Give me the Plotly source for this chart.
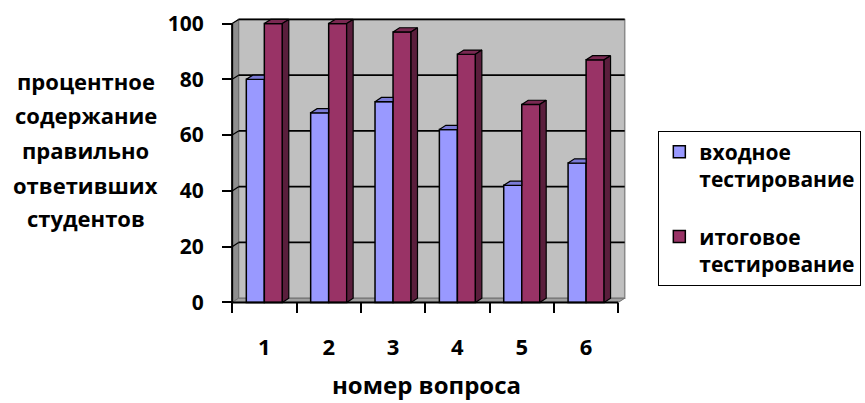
import plotly.graph_objects as go

# Data: share of students who answered each question correctly, %
questions = [1, 2, 3, 4, 5, 6]
entry_test = [80, 68, 72, 62, 42, 50]
final_test = [100, 100, 97, 89, 71, 87]
series_names = ["входное<br>тестирование", "итоговое<br>тестирование"]
y_ticks = [0, 20, 40, 60, 80, 100]
y_title_lines = ["процентное", "содержание", "правильно", "ответивших", "студентов"]
x_title = "номер вопроса"

# Styling
BLUE = "#9999FF"
BLUE_TOP = "#7B7BD6"
PLUM = "#993366"
PLUM_TOP = "#7A2952"
PLUM_SIDE = "#5A1E3C"
WALL = "#C0C0C0"
SIDE_WALL = "#8E8E8E"
FONT = "Open Sans"

BARGAP = 0.44
BAR_W = (1 - BARGAP) / 2     # width of one bar in category units
DX, DY = 0.10, 1.5           # pseudo-3D depth offset (x units, y units)
X0, X1 = 0.5, len(questions) + 0.5
XR = [0.42, X1 + 0.12]
YR = [-2, 102]


def bold(size):
    return dict(family=FONT, size=size, color="black", weight="bold")


fig = go.Figure()

fig.add_trace(go.Bar(x=questions, y=entry_test, name=series_names[0], legendgroup="entry",
                     marker=dict(color=BLUE, line=dict(color="black", width=1.5))))
fig.add_trace(go.Bar(x=questions, y=final_test, name=series_names[1], legendgroup="final",
                     marker=dict(color=PLUM, line=dict(color="black", width=1.5))))

# Depth faces of the columns, built from the same values
blue_top_x, blue_top_y = [], []
plum_top_x, plum_top_y = [], []
plum_side_x, plum_side_y = [], []
for c, vb, vp in zip(questions, entry_test, final_test):
    bx0, bx1 = c - BAR_W, c
    blue_top_x += [bx0, bx1, bx1, bx0 + DX, bx0, None]
    blue_top_y += [vb, vb, vb + DY, vb + DY, vb, None]
    px0, px1 = c, c + BAR_W
    plum_top_x += [px0, px1, px1 + DX, px0 + DX, px0, None]
    plum_top_y += [vp, vp, vp + DY, vp + DY, vp, None]
    plum_side_x += [px1, px1 + DX, px1 + DX, px1, px1, None]
    plum_side_y += [0, DY, vp + DY, vp, 0, None]

for xs, ys, col in [(blue_top_x, blue_top_y, BLUE_TOP),
                    (plum_top_x, plum_top_y, PLUM_TOP),
                    (plum_side_x, plum_side_y, PLUM_SIDE)]:
    fig.add_trace(go.Scatter(x=xs, y=ys, mode="lines", fill="toself", fillcolor=col,
                             line=dict(color="black", width=1.2), showlegend=False,
                             hoverinfo="skip"))

shapes = []
# back wall
shapes.append(dict(type="rect", xref="x", yref="y", x0=X0 + DX, x1=X1 + DX, y0=DY, y1=100 + DY,
                   fillcolor=WALL, line=dict(color="#8A8A8A", width=1.5), layer="below"))
# left side wall
shapes.append(dict(type="path", xref="x", yref="y",
                   path=f"M {X0},0 L {X0},100 L {X0 + DX},{100 + DY} L {X0 + DX},{DY} Z",
                   fillcolor=SIDE_WALL, line=dict(color="#707070", width=1), layer="below"))
# floor
shapes.append(dict(type="path", xref="x", yref="y",
                   path=f"M {X0},0 L {X1},0 L {X1 + DX},{DY} L {X0 + DX},{DY} Z",
                   fillcolor="#A0A0A0", line=dict(color="#707070", width=1), layer="below"))
# gridlines on the back and side walls
for v in y_ticks[1:]:
    shapes.append(dict(type="line", xref="x", yref="y", x0=X0 + DX, x1=X1 + DX,
                       y0=v + DY, y1=v + DY, line=dict(color="black", width=1.8), layer="below"))
    shapes.append(dict(type="line", xref="x", yref="y", x0=X0, x1=X0 + DX,
                       y0=v, y1=v + DY, line=dict(color="black", width=1.2), layer="below"))
# axis lines
shapes.append(dict(type="line", xref="x", yref="y", x0=X0, x1=X0, y0=0, y1=100,
                   line=dict(color="black", width=2)))
shapes.append(dict(type="line", xref="x", yref="y", x0=X0, x1=X1, y0=0, y1=0,
                   line=dict(color="black", width=2)))

# y-axis title, one line per annotation
annotations = []
line_px = [81, 115, 150, 185, 218]
top, bottom = 18.4, 308.1
for txt, ypx in zip(y_title_lines, line_px):
    annotations.append(dict(text=txt, xref="paper", yref="paper",
                            x=(86 - 227) / 398.7, y=(bottom - ypx) / (bottom - top),
                            xanchor="center", yanchor="middle", showarrow=False,
                            font=bold(22)))

fig.update_layout(
    width=865, height=403,
    margin=dict(l=227, r=239.4, t=18.4, b=94.9, autoexpand=False),
    paper_bgcolor="white", plot_bgcolor="white",
    barmode="group", bargap=BARGAP, bargroupgap=0,
    font=bold(20),
    shapes=shapes, annotations=annotations,
    legend=dict(x=(658 - 227) / 398.7, y=(bottom - 131) / (bottom - top),
                xanchor="left", yanchor="top", bgcolor="white",
                bordercolor="black", borderwidth=1, valign="top",
                tracegroupgap=27, traceorder="grouped",
                font=bold(21)),
    xaxis=dict(range=XR, tickvals=questions, ticktext=[str(q) for q in questions],
               ticks="", showgrid=False, zeroline=False, showline=False,
               anchor="free", position=(bottom - 302.5) / (bottom - top),
               ticklabelstandoff=30, tickfont=bold(22),
               minor=dict(tickvals=[q - 0.5 for q in questions] + [X1], ticks="outside",
                          ticklen=10, tickwidth=1.5, tickcolor="black", showgrid=False),
               title=dict(text=x_title, standoff=16, font=bold(24))),
    yaxis=dict(range=YR, tickvals=y_ticks, ticks="outside", ticklen=10, tickwidth=1.5,
               tickcolor="black", showgrid=False, zeroline=False, showline=False,
               anchor="free", position=(232 - 227) / 398.7, ticklabelstandoff=14,
               tickfont=bold(21)),
    showlegend=True,
)

fig.write_html("out.html")
